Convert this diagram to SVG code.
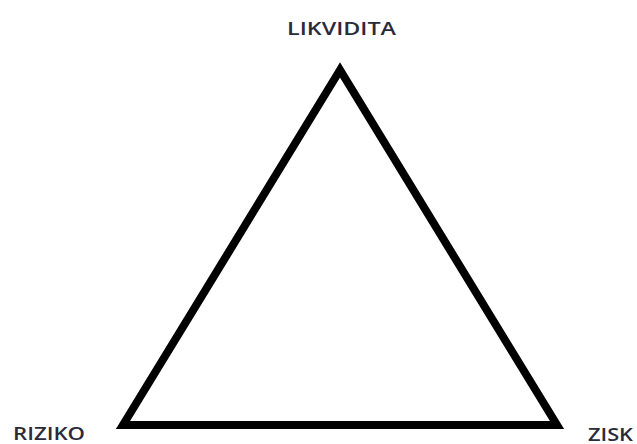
<svg xmlns="http://www.w3.org/2000/svg" width="637" height="444" viewBox="0 0 637 444">
<style>
.lbl{font-family:"Open Sans","DejaVu Sans",sans-serif;font-size:18.5px;font-weight:600;fill:#2a2a3a}
.edge{fill:none;stroke:#000;stroke-width:8;stroke-linejoin:miter}
</style>
<rect width="637" height="444" fill="#fff"/>
<g id="connectors">
<polygon class="edge" points="340,70 123,425 557,425"/>
</g>
<g id="likvidita"><text class="lbl" x="287" y="35" textLength="109" lengthAdjust="spacingAndGlyphs">LIKVIDITA</text></g>
<g id="riziko"><text class="lbl" x="13" y="440" textLength="72" lengthAdjust="spacingAndGlyphs">RIZIKO</text></g>
<g id="zisk"><text class="lbl" x="588" y="441" textLength="45" lengthAdjust="spacingAndGlyphs">ZISK</text></g>
</svg>
